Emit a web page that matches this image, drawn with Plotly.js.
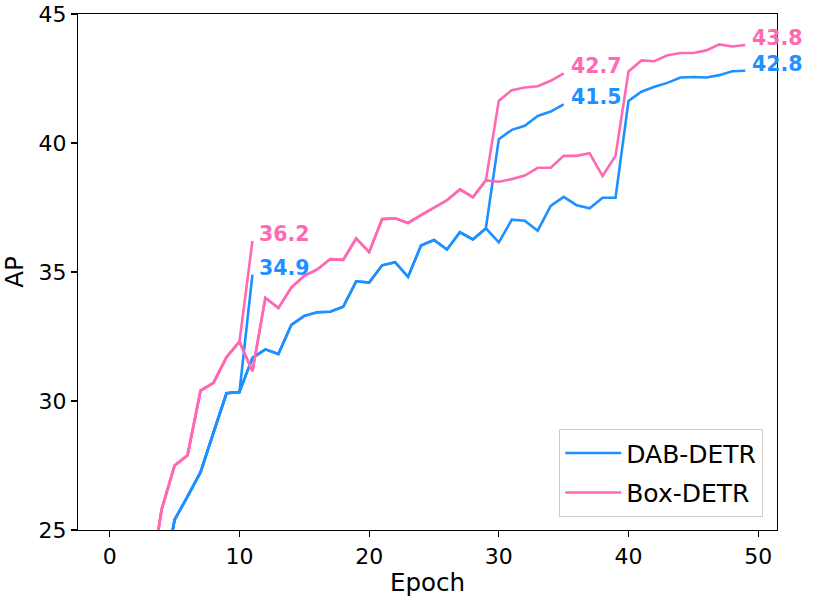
<!DOCTYPE html>
<html>
<head>
<meta charset="utf-8">
<script src="https://cdn.plot.ly/plotly-3.0.1.min.js"></script>
<style>
  html, body { margin: 0; padding: 0; background: #ffffff; }
  #chart { width: 830px; height: 600px; }
</style>
</head>
<body>
<div id="chart"></div>
<script>
// Epochs of the 50-epoch schedule
const epochs = [
    0, 1, 2, 3, 4, 5, 6, 7, 8, 9,
    10, 11, 12, 13, 14, 15, 16, 17, 18, 19,
    20, 21, 22, 23, 24, 25, 26, 27, 28, 29,
    30, 31, 32, 33, 34, 35, 36, 37, 38, 39,
    40, 41, 42, 43, 44, 45, 46, 47, 48, 49
];

// DAB-DETR, 50-epoch run (first epochs fall below the y range)
const dabAp50 = [
    11.0, 15.9, 19.3, 21.4, 22.7, 25.4, 26.3, 27.24, 28.78, 30.3,
    30.35, 31.67, 32.0, 31.82, 32.95, 33.3, 33.44, 33.46, 33.65, 34.64,
    34.59, 35.26, 35.38, 34.81, 36.03, 36.24, 35.87, 36.54, 36.26, 36.69,
    36.15, 37.03, 36.99, 36.6, 37.56, 37.91, 37.59, 37.47, 37.88, 37.88,
    41.63, 41.99, 42.18, 42.33, 42.54, 42.56, 42.54, 42.63, 42.78, 42.8
];

// Box-DETR, 50-epoch run
const boxAp50 = [
    12.5, 17.8, 20.9, 22.6, 25.8, 27.5, 27.9, 30.4, 30.7, 31.7,
    32.3, 31.15, 34.0, 33.6, 34.4, 34.85, 35.1, 35.5, 35.47, 36.3,
    35.77, 37.05, 37.08, 36.9, 37.2, 37.5, 37.78, 38.2, 37.9, 38.55,
    38.5, 38.6, 38.74, 39.04, 39.04, 39.5, 39.5, 39.6, 38.72, 39.5,
    42.77, 43.2, 43.17, 43.4, 43.49, 43.49, 43.59, 43.82, 43.74, 43.8
];

// Shorter schedules share the start of the 50-epoch run, then diverge
const dabTail12 = [34.9];                                   // epoch 11
const boxTail12 = [36.2];                                   // epoch 11
const dabTail36 = [40.15, 40.51, 40.67, 41.05, 41.22, 41.5]; // epochs 30-35
const boxTail36 = [41.64, 42.05, 42.15, 42.2, 42.41, 42.7];  // epochs 30-35

const modelNames = ['DAB-DETR', 'Box-DETR'];
const modelColors = ['#1e90ff', '#ff69b4'];

const FONT = 'DejaVu Sans, Verdana, sans-serif';

// Build one run: shared prefix of the 50-epoch curve plus its own tail
function buildRun(base, tail, length) {
    const start = length - tail.length;
    return {
        x: epochs.slice(0, length),
        y: base.slice(0, start).concat(tail)
    };
}

function makeRuns(base, tail12, tail36) {
    return [
        buildRun(base, tail12, 12),
        buildRun(base, tail36, 36),
        buildRun(base, [], 50)
    ];
}

const runsByModel = [
    makeRuns(dabAp50, dabTail12, dabTail36),
    makeRuns(boxAp50, boxTail12, boxTail36)
];

const traces = [];
const annotations = [];

runsByModel.forEach((runs, m) => {
    runs.forEach((run, r) => {
        traces.push({
            type: 'scatter',
            mode: 'lines',
            x: run.x,
            y: run.y,
            name: modelNames[m],
            legendgroup: modelNames[m],
            showlegend: r === 0,
            line: { color: modelColors[m], width: 2.6 },
            hoverinfo: 'x+y+name'
        });

        // End-of-run value label
        const lastX = run.x[run.x.length - 1];
        const lastY = run.y[run.y.length - 1];
        annotations.push({
            x: lastX,
            y: lastY,
            xref: 'x',
            yref: 'y',
            text: '<b>' + lastY.toFixed(1) + '</b>',
            showarrow: false,
            xanchor: 'left',
            yanchor: 'middle',
            xshift: 5,
            yshift: 7,
            font: { family: FONT, size: 20.5, color: modelColors[m] }
        });
    });
});

const layout = {
    width: 830,
    height: 600,
    margin: { l: 78, r: 53, t: 14, b: 70 },
    paper_bgcolor: '#ffffff',
    plot_bgcolor: '#ffffff',
    font: { family: FONT, color: '#000000' },
    showlegend: true,
    legend: {
        x: 0.98,
        y: 0.025,
        xanchor: 'right',
        yanchor: 'bottom',
        bgcolor: 'rgba(255,255,255,0.8)',
        bordercolor: '#cccccc',
        borderwidth: 1.2,
        itemwidth: 56,
        font: { family: FONT, size: 25, color: '#000000' },
        tracegroupgap: 4
    },
    xaxis: {
        range: [-2.45, 51.45],
        tick0: 0,
        dtick: 10,
        ticks: 'outside',
        ticklen: 6,
        tickwidth: 1.1,
        tickcolor: '#000000',
        showgrid: false,
        zeroline: false,
        showline: true,
        linecolor: '#000000',
        linewidth: 1.1,
        mirror: true,
        tickfont: { family: FONT, size: 22 },
        title: { text: 'Epoch', font: { family: FONT, size: 24.5 }, standoff: 6 }
    },
    yaxis: {
        range: [25, 45],
        tick0: 25,
        dtick: 5,
        ticks: 'outside',
        ticklen: 6,
        tickwidth: 1.1,
        tickcolor: '#000000',
        showgrid: false,
        zeroline: false,
        showline: true,
        linecolor: '#000000',
        linewidth: 1.1,
        mirror: true,
        ticklabeloverflow: 'allow',
        tickfont: { family: FONT, size: 22 },
        title: { text: 'AP', font: { family: FONT, size: 24.5 }, standoff: 12 }
    },
    annotations: annotations
};

Plotly.newPlot('chart', traces, layout, { displayModeBar: false, staticPlot: true });
</script>
</body>
</html>
